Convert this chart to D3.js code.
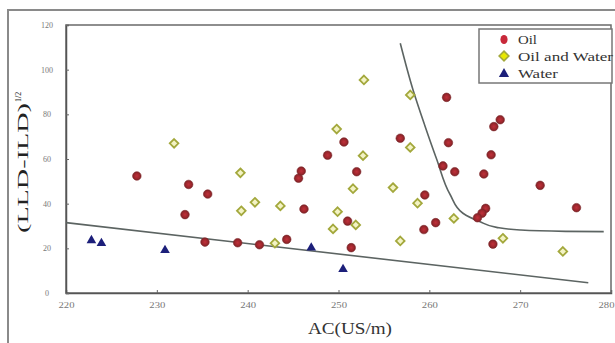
<!DOCTYPE html>
<html><head><meta charset="utf-8">
<script src="https://cdn.jsdelivr.net/npm/d3@7"></script>
<style>html,body{margin:0;padding:0;background:#fff;overflow:hidden}</style>
</head><body>
<svg id="c" width="615" height="343"></svg>
<script>
const xTicks = [220, 230, 240, 250, 260, 270, 280];
const yTicks = [0, 20, 40, 60, 80, 100, 120];
const seriesNames = ["Oil", "Oil and Water", "Water"];
const oil = [
 [227.8,52.4],[233.5,48.6],[233.1,35.1],[235.6,44.3],[235.3,22.8],[238.9,22.5],
 [241.3,21.6],[244.3,24.0],[245.6,51.4],[245.9,54.6],[246.2,37.6],[248.8,61.7],
 [250.6,67.6],[252.0,54.3],[251.0,32.2],[251.4,20.3],[256.8,69.3],[259.5,43.9],
 [259.4,28.4],[260.7,31.5],[261.9,87.6],[262.1,67.3],[261.5,56.9],[262.8,54.3],
 [266.0,53.3],[266.2,37.9],[265.8,35.7],[265.3,33.7],[266.8,61.9],[267.1,74.5],
 [267.8,77.6],[267.0,21.9],[272.2,48.2],[276.2,38.2]
];
const oilWater = [
 [231.9,67.0],[239.2,53.8],[239.3,36.8],[240.8,40.6],[243.6,39.0],[243.0,22.3],
 [249.8,73.4],[252.8,95.4],[252.7,61.5],[251.6,46.7],[249.9,36.4],[249.4,28.7],
 [251.9,30.5],[257.9,88.7],[257.9,65.2],[256.0,47.2],[258.7,40.2],[256.8,23.3],
 [262.7,33.4],[268.1,24.5],[274.7,18.6]
];
const water = [[222.8,24.0],[223.9,22.7],[230.9,19.6],[247.0,20.7],[250.5,11.1]];
const lowerLine = [[220,31.5],[277.5,4.6]];
const upperCurve = [[256.8,111.8],[258.2,91],[259.5,75],[260.8,60],[262.3,44],[263.7,35.7],
 [265.6,31.9],[267.4,29.4],[270,28.2],[275,27.6],[279.2,27.5]];

const svg = d3.select("#c");
svg.append("rect").attr("width",615).attr("height",343).attr("fill","#fff");
// outer frame
svg.append("rect").attr("x",8).attr("y",10).attr("width",620).attr("height",350)
  .attr("fill","none").attr("stroke","#8a8a8a").attr("stroke-width",2);

const L=66, R=611, T=25, B=293;
const x = d3.scaleLinear().domain([220,280]).range([L,R]);
const y = d3.scaleLinear().domain([0,120]).range([B,T]);

svg.append("rect").attr("x",L).attr("y",T).attr("width",R-L).attr("height",B-T)
  .attr("fill","#fff").attr("stroke","#6a6a6a").attr("stroke-width",1.5);

const xa = svg.append("g").attr("transform",`translate(0,${B})`)
  .call(d3.axisBottom(x).tickValues(xTicks).tickSize(-3).tickPadding(9).tickFormat(d3.format("d")));
xa.select(".domain").attr("stroke","#555").attr("stroke-width",1.5);
xa.selectAll(".tick line").attr("stroke","#666");
xa.selectAll("text").attr("font-family","Liberation Serif").attr("font-size",9).attr("fill","#777")
  .attr("textLength",16).attr("lengthAdjust","spacingAndGlyphs")
  .attr("dx",d=>d===280?-5:0);

const ya = svg.append("g").attr("transform",`translate(${L},0)`)
  .call(d3.axisLeft(y).tickValues(yTicks).tickSize(-3).tickPadding(17).tickFormat(d3.format("d")));
ya.select(".domain").attr("stroke","#555").attr("stroke-width",1.5);
ya.selectAll(".tick line").attr("stroke","#666");
ya.selectAll("text").attr("font-family","Liberation Serif").attr("font-size",8).attr("fill","#777")
  .attr("text-anchor","middle").attr("dx",-2);

// lines
const line = d3.line().x(d=>x(d[0])).y(d=>y(d[1]));
svg.append("path").datum(lowerLine).attr("d",line).attr("fill","none")
  .attr("stroke","#5c6462").attr("stroke-width",1.6);
svg.append("path").datum(upperCurve).attr("d",line.curve(d3.curveMonotoneY)).attr("fill","none")
  .attr("stroke","#5c6462").attr("stroke-width",1.6);

// markers
const defs = svg.append("defs");
const rg = defs.append("radialGradient").attr("id","rg");
rg.append("stop").attr("offset","0%").attr("stop-color","#c0303a");
rg.append("stop").attr("offset","70%").attr("stop-color","#9a262c");
rg.append("stop").attr("offset","100%").attr("stop-color","#742024");

const diamond = d3.symbol().type(d3.symbolDiamond2).size(48);
const tri = d3.symbol().type(d3.symbolTriangle).size(40);

svg.append("g").selectAll("path").data(oilWater).join("path")
  .attr("d",diamond).attr("transform",d=>`translate(${x(d[0])},${y(d[1])})`)
  .attr("fill","#f3f3c4").attr("stroke","#a3a83c").attr("stroke-width",1.8);
svg.append("g").selectAll("circle").data(oil).join("circle")
  .attr("cx",d=>x(d[0])).attr("cy",d=>y(d[1])).attr("r",4.3)
  .attr("fill","url(#rg)").attr("stroke","#852a2e").attr("stroke-width",0.6);
svg.append("g").selectAll("path").data(water).join("path")
  .attr("d",tri).attr("transform",d=>`translate(${x(d[0])},${y(d[1])+1})`)
  .attr("fill","#1c1f7a");

// legend
const lg = svg.append("g");
lg.append("rect").attr("x",479).attr("y",29).attr("width",133).attr("height",54)
  .attr("fill","#fff").attr("stroke","#777").attr("stroke-width",1.5);
const rowsY = [39.5, 56, 73];
lg.append("ellipse").attr("cx",504).attr("cy",rowsY[0]).attr("rx",3.6).attr("ry",4.6).attr("fill","#c8283a");
lg.append("path").attr("d",d3.symbol().type(d3.symbolDiamond2).size(60))
  .attr("transform",`translate(504,${rowsY[1]})`).attr("fill","#e8e800").attr("stroke","#a3a83c").attr("stroke-width",1.6);
lg.append("path").attr("d",d3.symbol().type(d3.symbolTriangle).size(45))
  .attr("transform",`translate(504,${rowsY[2]+1})`).attr("fill","#1c1f7a");
const lens = [19, 95, 40];
seriesNames.forEach((s,i)=>{
  lg.append("text").attr("x",518).attr("y",rowsY[i]+4.5).text(s)
    .attr("font-family","Liberation Serif").attr("font-size",13).attr("fill","#333")
    .attr("textLength",lens[i]).attr("lengthAdjust","spacingAndGlyphs");
});

// axis titles
svg.append("text").attr("x",350).attr("y",334).attr("text-anchor","middle")
  .attr("font-family","Liberation Serif").attr("font-size",17).attr("fill","#333")
  .attr("textLength",84).attr("lengthAdjust","spacingAndGlyphs").text("AC(US/m)");
const yl = svg.append("text").attr("transform","translate(28,233) rotate(-90)")
  .attr("font-family","Liberation Serif").attr("font-size",15).attr("fill","#222");
yl.append("tspan").text("(LLD-ILD)").attr("textLength",130).attr("lengthAdjust","spacingAndGlyphs");
yl.append("tspan").text("1/2").attr("font-size",8).attr("dy",-7).attr("dx",1);
</script>
</body></html>
